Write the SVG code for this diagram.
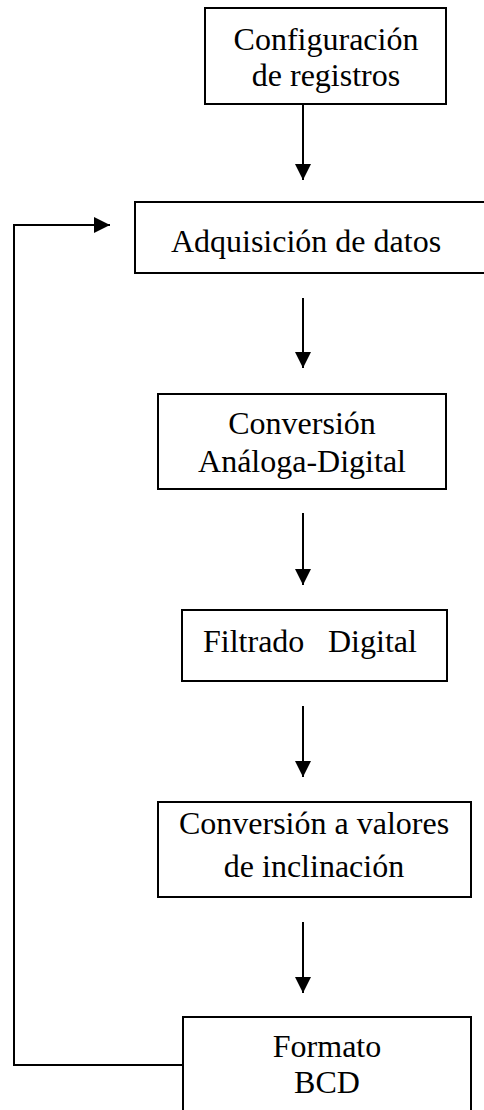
<svg xmlns="http://www.w3.org/2000/svg" width="484" height="1110" viewBox="0 0 484 1110">
<style>
.box{fill:#fff;stroke:#000;stroke-width:2}
.lbl{font-family:'Liberation Serif','Times New Roman',serif;font-size:32px;fill:#000;text-anchor:middle}
.con{fill:none;stroke:#000;stroke-width:2}
</style>
<defs>
<marker id="ahb" viewBox="0 0 10 10" refX="10" refY="5" markerWidth="16" markerHeight="16" markerUnits="userSpaceOnUse" orient="auto">
<path d="M0,0 L10,5 L0,10 Z" fill="#000"/>
</marker>
</defs>
<g id="connectors">
<line class="con" x1="303" y1="104" x2="303" y2="180" marker-end="url(#ahb)"/>
<line class="con" x1="303" y1="298" x2="303" y2="368" marker-end="url(#ahb)"/>
<line class="con" x1="303" y1="513" x2="303" y2="585" marker-end="url(#ahb)"/>
<line class="con" x1="303" y1="706" x2="303" y2="777" marker-end="url(#ahb)"/>
<line class="con" x1="303" y1="922" x2="303" y2="993" marker-end="url(#ahb)"/>
<polyline class="con" points="183,1065 14,1065 14,225 110,225" marker-end="url(#ahb)"/>
</g>
<g id="n1">
<rect class="box" x="205" y="8" width="241" height="96"/>
<text class="lbl" x="326" y="50">Configuración</text>
<text class="lbl" x="326" y="86">de registros</text>
</g>
<g id="n2">
<rect class="box" x="135" y="202" width="352" height="71"/>
<text class="lbl" x="306" y="252">Adquisición de datos</text>
</g>
<g id="n3">
<rect class="box" x="158" y="394" width="288" height="95"/>
<text class="lbl" x="302" y="434">Conversión</text>
<text class="lbl" x="302" y="472">Análoga-Digital</text>
</g>
<g id="n4">
<rect class="box" x="182" y="610" width="265" height="71"/>
<text class="lbl" style="text-anchor:start"><tspan x="203" y="652">Filtrado</tspan><tspan x="328" y="652">Digital</tspan></text>
</g>
<g id="n5">
<rect class="box" x="158" y="802" width="313" height="95"/>
<text class="lbl" x="314" y="834">Conversión a valores</text>
<text class="lbl" x="314" y="877">de inclinación</text>
</g>
<g id="n6">
<rect class="box" x="183" y="1017" width="288" height="100"/>
<text class="lbl" x="327" y="1057">Formato</text>
<text class="lbl" x="327" y="1093">BCD</text>
</g>
</svg>
